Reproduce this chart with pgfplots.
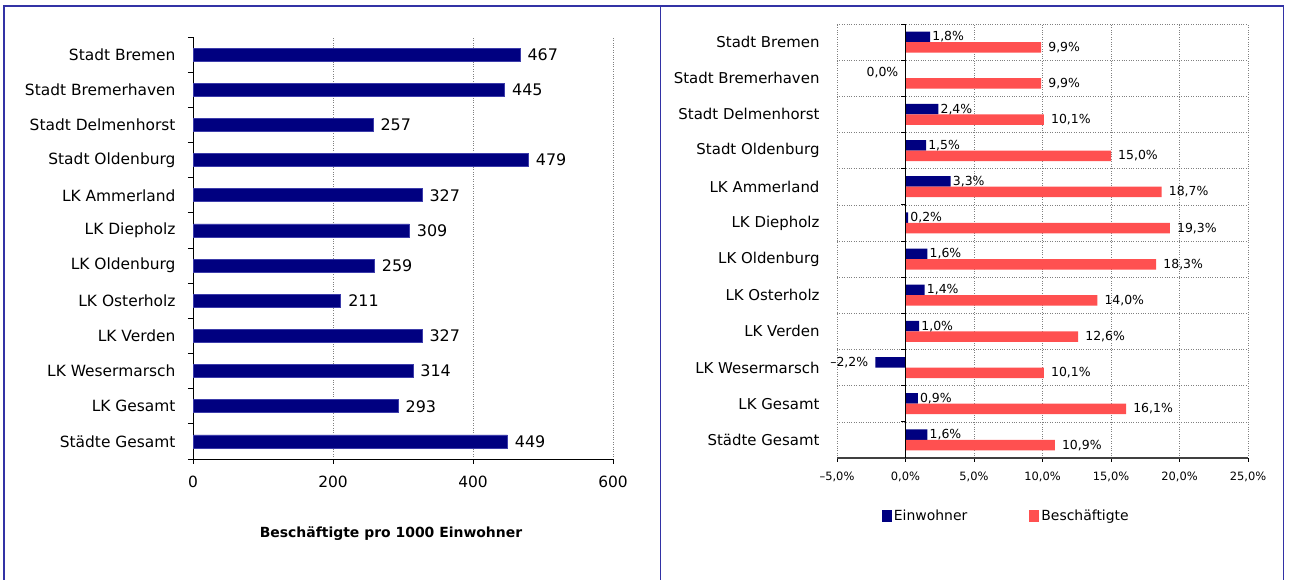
\documentclass[border=0pt]{standalone}
\usepackage{fontspec}
\setmainfont{DejaVu Sans}
\usepackage{pgfplots}
\pgfplotsset{compat=1.18}
\usepackage{pgfplotstable}
\definecolor{navy}{RGB}{0,0,128}
\definecolor{navyedge}{RGB}{60,60,170}
\definecolor{salmon}{RGB}{255,80,80}
\definecolor{frame}{RGB}{50,50,165}

\pgfplotstableread{
y val lab
11 467 467
10 445 445
9 257 257
8 479 479
7 327 327
6 309 309
5 259 259
4 211 211
3 327 327
2 314 314
1 293 293
0 449 449
}\lefttab

% Einwohner, labels right of bar
\pgfplotstableread{
y ew ewlab
11 1.8 1,8\%
9 2.4 2,4\%
8 1.5 1,5\%
7 3.3 3,3\%
6 0.2 0,2\%
5 1.6 1,6\%
4 1.4 1,4\%
3 1.0 1,0\%
1 0.9 0,9\%
0 1.6 1,6\%
}\eintab
% Einwohner, labels left of zero
\pgfplotstableread{
y ew ewlab
10 0.0 0,0\%
2 -2.2 --2,2\%
}\einneg

\pgfplotstableread{
y bs bslab
11 9.9 9,9\%
10 9.9 9,9\%
9 10.1 10,1\%
8 15.0 15,0\%
7 18.7 18,7\%
6 19.3 19,3\%
5 18.3 18,3\%
4 14.0 14,0\%
3 12.6 12,6\%
2 10.1 10,1\%
1 16.1 16,1\%
0 10.9 10,9\%
}\bestab

\begin{document}
\begin{tikzpicture}
\useasboundingbox (0,0) rectangle (1289bp,580bp);
\draw[frame, line width=1.2bp] (4bp,0) -- (4bp,574bp) -- (1283.5bp,574bp) -- (1283.5bp,0);
\draw[frame, line width=1.2bp] (660.5bp,0) -- (660.5bp,574bp);

% ---------- left panel ----------
\begin{axis}[
  at={(193bp,121bp)}, anchor=south west, scale only axis,
  width=420bp, height=422bp,
  xbar, bar width=13bp,
  xmin=0, xmax=600, ymin=-0.5, ymax=11.5,
  axis x line=bottom, axis y line=left,
  axis line style={-, black, line width=0.8bp},
  tick align=outside, major tick length=5bp,
  tick style={black, line width=0.8bp},
  xtick={0,200,400,600},
  xmajorgrids, major grid style={gray, dotted},
  ytick={-0.5,0.5,...,11.5}, yticklabels={},
  extra y ticks={0,1,2,3,4,5,6,7,8,9,10,11},
  extra y tick labels={St\"adte Gesamt,LK Gesamt,LK Wesermarsch,LK Verden,LK Osterholz,LK Oldenburg,LK Diepholz,LK Ammerland,Stadt Oldenburg,Stadt Delmenhorst,Stadt Bremerhaven,Stadt Bremen},
  extra y tick style={major tick length=0pt, grid=none, yticklabel style={xshift=-14bp}},
  ticklabel style={font=\fontsize{15.5}{18}\selectfont},
  xticklabel style={yshift=-9bp},
  /pgf/number format/assume math mode=true,
  nodes near coords, point meta=explicit symbolic,
  nodes near coords style={font=\fontsize{16}{19}\selectfont, anchor=west, xshift=4bp},
]
\addplot[fill=navy, draw=navyedge, line width=0.6bp] table[x=val, y=y, meta=lab] {\lefttab};
\end{axis}
\node[font=\bfseries\fontsize{14}{17}\selectfont] at (391bp,46bp) {Besch\"aftigte pro 1000 Einwohner};

% ---------- right panel ----------
\begin{axis}[
  at={(837bp,122bp)}, anchor=south west, scale only axis,
  width=411bp, height=434bp,
  xbar, bar width=10.5bp,
  xmin=-5, xmax=25, ymin=-0.5, ymax=11.5,
  axis x line=bottom, axis y line=left,
  x axis line style={-, black!75, line width=1.2bp},
  y axis line style={draw=none},
  tick align=outside, major tick length=4bp,
  xtick style={black, line width=0.8bp},
  xtick={-5,0,5,10,15,20,25},
  xticklabels={{--5,0\%},{0,0\%},{5,0\%},{10,0\%},{15,0\%},{20,0\%},{25,0\%}},
  xmajorgrids, major grid style={gray, dotted},
  ytick={0,1,2,3,4,5,6,7,8,9,10,11},
  yticklabels={St\"adte Gesamt,LK Gesamt,LK Wesermarsch,LK Verden,LK Osterholz,LK Oldenburg,LK Diepholz,LK Ammerland,Stadt Oldenburg,Stadt Delmenhorst,Stadt Bremerhaven,Stadt Bremen},
  ytick style={draw=none},
  minor ytick={-0.5,0.5,1.5,2.5,3.5,4.5,5.5,6.5,7.5,8.5,9.5,10.5,11.5},
  yminorgrids, minor grid style={gray, dotted}, minor tick length=0pt,
  yticklabel style={font=\fontsize{15}{18}\selectfont, xshift=-10bp},
  xticklabel style={font=\fontsize{11.5}{14}\selectfont, yshift=-6bp},
  legend style={at={(0.412,-0.134)}, anchor=center, draw=none, fill=none,
    legend columns=2, font=\fontsize{14}{17}\selectfont,
    /tikz/every even column/.append style={column sep=60bp}},
  legend image code/.code={\fill[#1] (0bp,-6bp) rectangle (10bp,6bp);},
]
\addplot[forget plot, fill=navy, draw=none, bar shift=5.25bp,
  point meta=explicit symbolic, nodes near coords,
  nodes near coords style={font=\fontsize{12.5}{15}\selectfont, anchor=west, inner sep=2bp}]
  table[x=ew, y=y, meta=ewlab] {\eintab};
\addplot[forget plot, fill=navy, draw=none, bar shift=5.25bp,
  point meta=explicit symbolic, nodes near coords,
  nodes near coords style={font=\fontsize{12.5}{15}\selectfont, anchor=east, inner sep=2bp, xshift=-5bp}]
  table[x=ew, y=y, meta=ewlab] {\einneg};
\addplot[forget plot, fill=salmon, draw=none, bar shift=-5.25bp,
  point meta=explicit symbolic, nodes near coords,
  nodes near coords style={font=\fontsize{12.5}{15}\selectfont, anchor=west, inner sep=2bp, xshift=5bp}]
  table[x=bs, y=y, meta=bslab] {\bestab};
\addlegendimage{fill=navy, draw=none}
\addlegendentry{Einwohner}
\addlegendimage{fill=salmon, draw=none}
\addlegendentry{Besch\"aftigte}
\draw[black, line width=1.2bp] (axis cs:0,-0.5) -- (axis cs:0,11.5);
\pgfplotsinvokeforeach{-0.5,0.5,1.5,2.5,3.5,4.5,5.5,6.5,7.5,8.5,9.5,10.5,11.5}{
  \draw[black, line width=0.8bp] (axis cs:0,#1) -- ++(-5bp,0pt);
}
\end{axis}
\end{tikzpicture}
\end{document}
